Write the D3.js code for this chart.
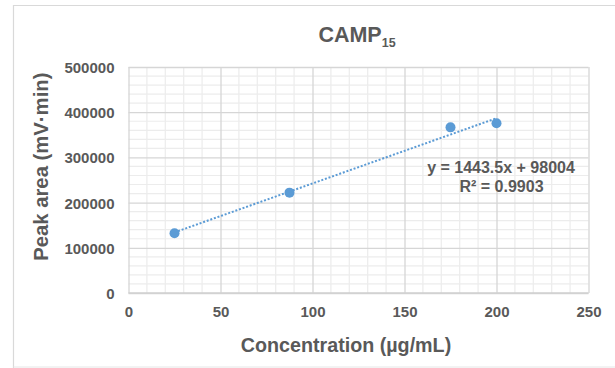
<!DOCTYPE html>
<html>
<head>
<meta charset="utf-8">
<script src="https://cdn.jsdelivr.net/npm/d3@7"></script>
<style>
  html, body { margin: 0; padding: 0; background: #fff; }
  svg { display: block; }
  text { font-family: "Liberation Sans", Arial, sans-serif; font-weight: bold; fill: #595959; }
</style>
</head>
<body>
<svg id="chart" width="615" height="368"></svg>
<script>
// ---- data ----
const concentrations = [25, 87.5, 175, 200];
const peakAreas = [132000, 222000, 366500, 375500];
const xTicks = [0, 50, 100, 150, 200, 250];
const yTicks = [0, 100000, 200000, 300000, 400000, 500000];
const trendSlope = 1443.5;
const trendIntercept = 98004;
const rSquared = 0.9903;
const titleMain = "CAMP";
const titleSub = "15";
const xTitle = "Concentration (µg/mL)";
const yTitle = "Peak area (mV·min)";

// ---- layout ----
const W = 615, H = 368;
const plot = { left: 128.5, right: 588.5, top: 67, bottom: 293 };
const svg = d3.select("#chart");

// outer chart border
svg.append("path")
  .attr("d", `M13.5,${H} L13.5,5.5 L${W},5.5`)
  .attr("fill", "none").attr("stroke", "#d9d9d9").attr("stroke-width", 1.2);
svg.append("line").attr("x1", 13.5).attr("x2", W).attr("y1", 367).attr("y2", 367)
  .attr("stroke", "#e6e6e6").attr("stroke-width", 1);

const x = d3.scaleLinear().domain([0, 250]).range([plot.left, plot.right]);
const y = d3.scaleLinear().domain([0, 500000]).range([plot.bottom, plot.top]);

// minor gridlines
const g = svg.append("g");
g.selectAll(".mx").data(d3.range(0, 251, 10).filter(v => v % 50 !== 0)).join("line")
  .attr("x1", d => x(d)).attr("x2", d => x(d)).attr("y1", plot.top).attr("y2", plot.bottom)
  .attr("stroke", "#ececec").attr("stroke-width", 1.2);
g.selectAll(".my").data(d3.range(0, 500001, 20000).filter(v => v % 100000 !== 0)).join("line")
  .attr("y1", d => y(d)).attr("y2", d => y(d)).attr("x1", plot.left).attr("x2", plot.right)
  .attr("stroke", "#ececec").attr("stroke-width", 1.2);

// major gridlines via axes
const xGrid = d3.axisBottom(x).tickValues(xTicks).tickSize(-(plot.bottom - plot.top)).tickFormat("");
const yGrid = d3.axisLeft(y).tickValues(yTicks).tickSize(-(plot.right - plot.left)).tickFormat("");
const xg = svg.append("g").attr("transform", `translate(0,${plot.bottom})`).call(xGrid);
const yg = svg.append("g").attr("transform", `translate(${plot.left},0)`).call(yGrid);
[xg, yg].forEach(a => {
  a.select(".domain").remove();
  a.selectAll("line").attr("stroke", "#d6d6d6").attr("stroke-width", 1.3);
});
// bottom axis line
svg.append("line").attr("x1", plot.left).attr("x2", plot.right)
  .attr("y1", plot.bottom).attr("y2", plot.bottom)
  .attr("stroke", "#d0d0d0").attr("stroke-width", 1.5);

// tick labels
const xAxis = d3.axisBottom(x).tickValues(xTicks).tickSize(0).tickPadding(0).tickFormat(d3.format("d"));
const xa = svg.append("g").attr("transform", `translate(0,${plot.bottom})`).call(xAxis);
xa.select(".domain").remove();
xa.selectAll("text").attr("dy", null).attr("y", 23.5)
  .style("font-size", "15px").style("font-family", "'Liberation Sans', Arial, sans-serif")
  .attr("fill", "#595959");

const yAxis = d3.axisLeft(y).tickValues(yTicks).tickSize(0).tickPadding(14).tickFormat(d3.format("d"));
const ya = svg.append("g").attr("transform", `translate(${plot.left},0)`).call(yAxis);
ya.select(".domain").remove();
ya.selectAll("text").attr("dy", "0.36em")
  .style("font-size", "15px").style("font-family", "'Liberation Sans', Arial, sans-serif")
  .attr("fill", "#595959");

// trendline
const trendX = [d3.min(concentrations), d3.max(concentrations)];
svg.append("line")
  .attr("x1", x(trendX[0])).attr("y1", y(trendSlope * trendX[0] + trendIntercept))
  .attr("x2", x(trendX[1])).attr("y2", y(trendSlope * trendX[1] + trendIntercept))
  .attr("stroke", "#5b9bd5").attr("stroke-width", 2)
  .attr("stroke-dasharray", "2,1.8");

// points
svg.selectAll(".pt").data(concentrations).join("circle")
  .attr("cx", d => x(d)).attr("cy", (d, i) => y(peakAreas[i]))
  .attr("r", 5).attr("fill", "#5b9bd5");

// equation label
svg.append("text").attr("x", 501).attr("y", 173.3).attr("text-anchor", "middle")
  .style("font-size", "16px")
  .text(`y = ${trendSlope}x + ${trendIntercept}`);
svg.append("text").attr("x", 501.5).attr("y", 191.7).attr("text-anchor", "middle")
  .style("font-size", "16px")
  .text(`R² = ${rSquared}`);

// title
const t = svg.append("text").attr("x", 357).attr("y", 41.7).attr("text-anchor", "middle")
  .style("font-size", "21.5px");
t.append("tspan").text(titleMain);
t.append("tspan").attr("dy", 5).style("font-size", "12.5px").text(titleSub);

// axis titles
svg.append("text").attr("x", 346).attr("y", 352).attr("text-anchor", "middle")
  .style("font-size", "19.7px").text(xTitle);
svg.append("text").attr("transform", "translate(47.5,166.7) rotate(-90)")
  .attr("text-anchor", "middle").style("font-size", "20.3px").text(yTitle);
</script>
</body>
</html>
